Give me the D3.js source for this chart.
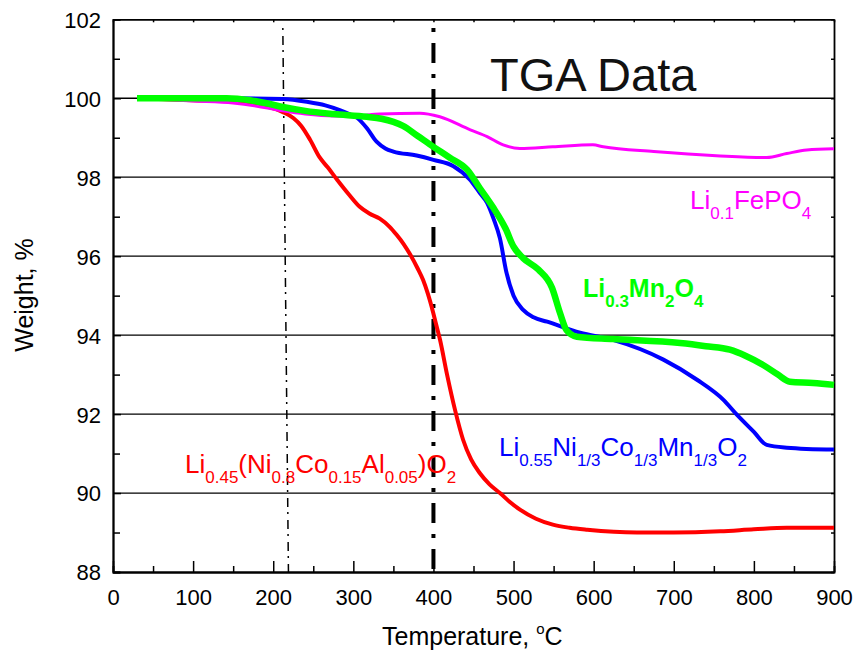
<!DOCTYPE html>
<html>
<head>
<meta charset="utf-8">
<script src="https://cdn.jsdelivr.net/npm/d3@7"></script>
<style>
  body { margin: 0; background: #fff; }
  text { font-family: Arial, "Liberation Sans", sans-serif; }
</style>
</head>
<body>
<svg width="854" height="650"></svg>
<script>
// temperatures (C) and weights (%)
var redT = [30, 100, 150, 190, 212, 225, 235, 246, 258, 268, 280, 295, 308, 320, 333, 345, 354, 363, 371, 380, 387, 393, 398, 403, 408, 417, 427, 437, 447, 458, 470, 483, 495, 508, 528, 549, 570, 592, 654, 700, 758, 800, 841, 900];
var redW = [100, 99.95, 99.92, 99.8, 99.65, 99.5, 99.3, 98.95, 98.5, 98.25, 97.93, 97.55, 97.25, 97.08, 96.95, 96.75, 96.54, 96.3, 96.04, 95.7, 95.4, 95.05, 94.7, 94.3, 93.9, 93.0, 92.1, 91.35, 90.85, 90.5, 90.22, 90.0, 89.78, 89.58, 89.35, 89.2, 89.12, 89.07, 89.0, 89.0, 89.03, 89.08, 89.12, 89.12];

var magT = [30, 100, 150, 180, 212, 240, 275, 300, 333, 383, 408, 446, 467, 487, 508, 549, 599, 612, 675, 758, 816, 841, 866, 900];
var magW = [100, 99.93, 99.88, 99.8, 99.68, 99.6, 99.55, 99.55, 99.6, 99.62, 99.53, 99.2, 99.03, 98.82, 98.73, 98.77, 98.82, 98.77, 98.65, 98.54, 98.5, 98.6, 98.69, 98.72];

var blueT = [30, 100, 150, 212, 242, 265, 283, 295, 305, 317, 329, 340, 350, 379, 400, 425, 445, 458, 467, 475, 483, 491, 500, 512, 525, 542, 583, 624, 687, 729, 762, 779, 800, 816, 841, 900];
var blueW = [100, 100, 100, 99.98, 99.91, 99.82, 99.7, 99.6, 99.5, 99.24, 98.9, 98.73, 98.65, 98.55, 98.44, 98.28, 97.95, 97.6, 97.35, 96.95, 96.45, 95.6, 95.0, 94.64, 94.45, 94.34, 94.06, 93.88, 93.38, 92.87, 92.36, 91.98, 91.55, 91.22, 91.15, 91.1];

var greenT = [30, 100, 142, 171, 190, 212, 240, 275, 317, 335, 350, 362, 380, 400, 420, 442, 458, 474, 490, 500, 512, 531, 548, 558, 566, 579, 624, 708, 740, 770, 790, 811, 830, 845, 874, 900];
var greenW = [100, 100, 100, 99.95, 99.88, 99.78, 99.68, 99.6, 99.53, 99.48, 99.4, 99.3, 99.05, 98.77, 98.5, 98.19, 97.72, 97.25, 96.7, 96.24, 95.95, 95.66, 95.2, 94.56, 94.13, 93.96, 93.9, 93.8, 93.72, 93.63, 93.47, 93.25, 93.0, 92.82, 92.79, 92.74];

var xTicks = [0, 100, 200, 300, 400, 500, 600, 700, 800, 900];
var yTicks = [88, 90, 92, 94, 96, 98, 100, 102];
var gridValues = [90, 92, 94, 96, 98, 100];

// label pieces: [text, subscript?]
var redLabel = [['Li', 0], ['0.45', 1], ['(Ni', 0], ['0.8', 1], ['Co', 0], ['0.15', 1], ['Al', 0], ['0.05', 1], [')O', 0], ['2', 1]];
var blueLabel = [['Li', 0], ['0.55', 1], ['Ni', 0], ['1/3', 1], ['Co', 0], ['1/3', 1], ['Mn', 0], ['1/3', 1], ['O', 0], ['2', 1]];
var greenLabel = [['Li', 0], ['0.3', 1], ['Mn', 0], ['2', 1], ['O', 0], ['4', 1]];
var magLabel = [['Li', 0], ['0.1', 1], ['FePO', 0], ['4', 1]];

var svg = d3.select('svg');

var x = d3.scaleLinear().domain([0, 900]).range([113, 834]);
var y = d3.scaleLinear().domain([88, 102]).range([572, 19.3]);

// gridlines
svg.append('g').selectAll('line')
    .data(gridValues)
    .enter().append('line')
    .attr('x1', x(0)).attr('x2', x(900))
    .attr('y1', d => y(d)).attr('y2', d => y(d))
    .attr('stroke', '#000').attr('stroke-width', 1.3);

// bottom axis: major inward ticks + minor
var bottomAx = svg.append('g').attr('transform', `translate(0, ${y(88)})`);
bottomAx.call(d3.axisBottom(x).tickValues(xTicks).tickSizeInner(-11).tickSizeOuter(0).tickPadding(17));
bottomAx.append('g').call(d3.axisBottom(x).tickValues(d3.range(50, 900, 100)).tickSize(-6).tickFormat(''));

var leftAx = svg.append('g').attr('transform', `translate(${x(0)}, 0)`);
leftAx.call(d3.axisLeft(y).tickValues(yTicks).tickSizeInner(-8).tickSizeOuter(0).tickPadding(12));
leftAx.append('g').call(d3.axisLeft(y).tickValues(d3.range(89, 102, 2)).tickSize(-7).tickFormat(''));

var topAx = svg.append('g').attr('transform', `translate(0, ${y(102)})`);
topAx.call(d3.axisTop(x).tickValues(d3.range(0, 901, 50)).tickSize(-3).tickSizeOuter(0).tickFormat(''));

var rightAx = svg.append('g').attr('transform', `translate(${x(900)}, 0)`);
rightAx.call(d3.axisRight(y).tickValues(d3.range(88, 103, 1)).tickSize(-3).tickSizeOuter(0).tickFormat(''));

svg.selectAll('.domain').attr('stroke', '#000').attr('stroke-width', 1.8);
svg.selectAll('.tick line').attr('stroke', '#000').attr('stroke-width', 1.5);
svg.selectAll('.tick text').style('font-size', '22px').attr('fill', '#000')
    .style('font-family', 'Arial, "Liberation Sans", sans-serif');
bottomAx.selectAll('.tick text').attr('dy', '0.71em');
leftAx.selectAll('.tick text').attr('dy', '0.36em');

// vertical marker lines
svg.append('line')
    .attr('x1', x(212)).attr('y1', y(101.78))
    .attr('x2', x(219)).attr('y2', y(88))
    .attr('stroke', '#000').attr('stroke-width', 1.5)
    .attr('stroke-dasharray', '2,6,9,5');

svg.append('line')
    .attr('x1', x(400)).attr('y1', y(101.78))
    .attr('x2', x(400)).attr('y2', y(88))
    .attr('stroke', '#000').attr('stroke-width', 4)
    .attr('stroke-dasharray', '4,11,20,11');

// curves
var line = d3.line()
    .x(d => x(d[0]))
    .y(d => y(d[1]))
    .curve(d3.curveMonotoneX);

var series = [
    { t: redT, w: redW, color: '#ff0000', width: 4 },
    { t: magT, w: magW, color: '#ff00ff', width: 3 },
    { t: blueT, w: blueW, color: '#0000ff', width: 4 },
    { t: greenT, w: greenW, color: '#00ff00', width: 6.5 }
];

series.forEach(function (s) {
    svg.append('path')
        .datum(d3.zip(s.t, s.w))
        .attr('d', line)
        .attr('fill', 'none')
        .attr('stroke', s.color)
        .attr('stroke-width', s.width)
        .attr('stroke-linejoin', 'round');
});

// formula labels with subscripts
function addLabel(pieces, px, py, color, size, subSize, bold) {
    var t = svg.append('text')
        .attr('x', px).attr('y', py)
        .attr('fill', color)
        .style('font-size', size + 'px')
        .style('font-weight', bold ? 'bold' : 'normal');
    var wasSub = false;
    pieces.forEach(function (p) {
        var dy = 0;
        if (p[1] && !wasSub) dy = 10;
        if (!p[1] && wasSub) dy = -10;
        t.append('tspan')
            .attr('dy', dy)
            .style('font-size', (p[1] ? subSize : size) + 'px')
            .text(p[0]);
        wasSub = !!p[1];
    });
}

addLabel(redLabel, 185, 473, '#ff0000', 26, 17, false);
addLabel(blueLabel, 499, 456, '#0000ff', 26, 17, false);
addLabel(greenLabel, 583, 297, '#00ff00', 25, 17, true);
addLabel(magLabel, 690, 209, '#ff00ff', 26, 17, false);

// title
svg.append('text')
    .attr('x', 490).attr('y', 91)
    .style('font-size', '47px')
    .attr('fill', '#111')
    .text('TGA Data');

// axis titles
var xt = svg.append('text')
    .attr('x', 382).attr('y', 645)
    .style('font-size', '25px')
    .text('Temperature, ');
xt.append('tspan').attr('dy', -11).style('font-size', '15px').text('o');
xt.append('tspan').attr('dy', 11).text('C');

svg.append('text')
    .attr('transform', 'translate(33, 295) rotate(-90)')
    .attr('text-anchor', 'middle')
    .style('font-size', '25px')
    .text('Weight, %');
</script>
</body>
</html>
